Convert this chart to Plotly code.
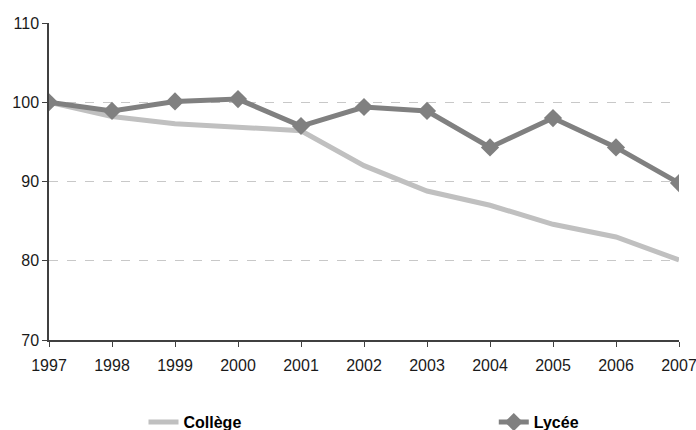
import plotly.graph_objects as go

years = [1997, 1998, 1999, 2000, 2001, 2002, 2003, 2004, 2005, 2006, 2007]
college = [100, 98.2, 97.3, 96.9, 96.4, 92.0, 88.8, 87.0, 84.6, 83.0, 80.1]
lycee = [100, 98.9, 100.1, 100.4, 97.0, 99.4, 98.9, 94.3, 98.0, 94.3, 89.8]
y_ticks = [70, 80, 90, 100, 110]

FONT = "Liberation Sans, Arial, sans-serif"

fig = go.Figure()
fig.add_trace(go.Scatter(
    x=years, y=college, name="<b>Collège</b>", mode="lines",
    line=dict(color="#c0c0c0", width=5),
    legend="legend",
))
fig.add_trace(go.Scatter(
    x=years, y=lycee, name="<b>Lycée</b>", mode="lines+markers",
    line=dict(color="#808080", width=5),
    marker=dict(symbol="diamond", size=14, color="#808080"),
    legend="legend2",
))

leg_common = dict(
    orientation="h", yanchor="middle", xanchor="left",
    font=dict(family=FONT, size=16, color="#000000"),
    bgcolor="rgba(0,0,0,0)",
)

fig.update_layout(
    width=696, height=430,
    margin=dict(l=49, r=17, t=23, b=90, autoexpand=False),
    plot_bgcolor="white", paper_bgcolor="white",
    font=dict(family=FONT, size=16, color="#1a1a1a"),
    showlegend=True,
    legend=dict(x=0.150, y=-0.259, **leg_common),
    legend2=dict(x=0.706, y=-0.259, **leg_common),
    xaxis=dict(
        range=[1997, 2007], tickvals=years, ticktext=[str(y) for y in years],
        showgrid=False, zeroline=False, automargin=False,
        showline=True, linecolor="#404040", linewidth=1.5,
        ticks="outside", ticklen=5, tickcolor="#404040",
        tickfont=dict(family=FONT, size=16),
        ticklabelstandoff=5,
        ticklabeloverflow="allow",
    ),
    yaxis=dict(
        range=[70, 110], tickvals=y_ticks, automargin=False,
        showgrid=True, gridcolor="#c8c8c8", griddash="dash", gridwidth=1,
        zeroline=False,
        showline=True, linecolor="#404040", linewidth=1.5,
        ticks="outside", ticklen=5, tickcolor="#404040",
        tickfont=dict(family=FONT, size=16),
    ),
)

fig.write_html(
    "out.html",
    config={"displayModeBar": False},
    post_script="document.body.style.margin='0';document.body.style.overflow='hidden';",
)
